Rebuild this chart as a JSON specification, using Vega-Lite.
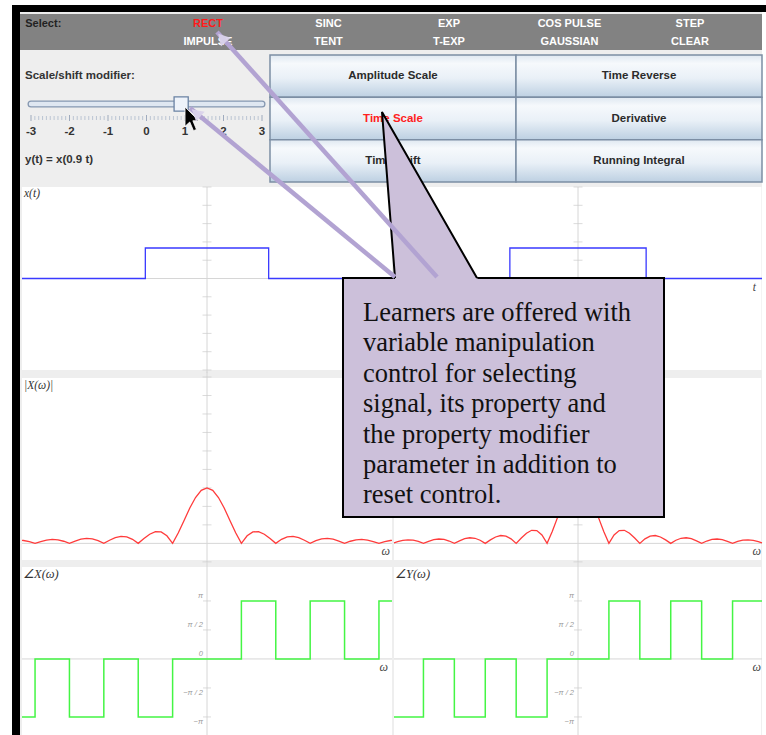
{
"$schema": "https://vega.github.io/schema/vega-lite/v6.json",
"width": 766, "height": 735, "padding": 0, "autosize": {"type": "none"}, "background": "#ffffff",
"config": {"view": {"stroke": null}, "axis": {"disable": true}, "legend": {"disable": true}, "font": "Liberation Sans"},
"resolve": {"scale": {"x": "independent", "y": "independent", "color": "independent"}},
"datasets": {
"selectCells": [
{"col":0,"row":0,"text":"Select:","state":"label"},
{"col":1,"row":0,"text":"RECT","state":"active"},
{"col":2,"row":0,"text":"SINC","state":"option"},
{"col":3,"row":0,"text":"EXP","state":"option"},
{"col":4,"row":0,"text":"COS PULSE","state":"option"},
{"col":5,"row":0,"text":"STEP","state":"option"},
{"col":1,"row":1,"text":"IMPULSE","state":"option"},
{"col":2,"row":1,"text":"TENT","state":"option"},
{"col":3,"row":1,"text":"T-EXP","state":"option"},
{"col":4,"row":1,"text":"GAUSSIAN","state":"option"},
{"col":5,"row":1,"text":"CLEAR","state":"option"}],
"buttons": [
{"col":0,"row":0,"label":"Amplitude Scale","state":"normal"},
{"col":1,"row":0,"label":"Time Reverse","state":"normal"},
{"col":0,"row":1,"label":"Time Scale","state":"active"},
{"col":1,"row":1,"label":"Derivative","state":"normal"},
{"col":0,"row":2,"label":"Time Shift","state":"normal"},
{"col":1,"row":2,"label":"Running Integral","state":"normal"}],
"magLeft": [
{"w":-16.9,"v":0.110},{"w":-16.755,"v":0.1034},{"w":-16.232,"v":0.0616},{"w":-15.708,"v":0},{"w":-15.184,"v":0.0659},{"w":-14.661,"v":0.1181},{"w":-14.137,"v":0.1415},{"w":-13.614,"v":0.1272},{"w":-13.09,"v":0.0764},{"w":-12.566,"v":0},{"w":-12.043,"v":0.083},{"w":-11.519,"v":0.1504},{"w":-10.996,"v":0.1819},{"w":-10.472,"v":0.1654},{"w":-9.948,"v":0.1005},{"w":-9.425,"v":0},{"w":-8.901,"v":0.1123},{"w":-8.378,"v":0.2067},{"w":-7.854,"v":0.2546},{"w":-7.33,"v":0.2363},{"w":-6.807,"v":0.1469},{"w":-6.283,"v":0},{"w":-5.76,"v":0.1736},{"w":-5.236,"v":0.3308},{"w":-4.712,"v":0.4244},{"w":-4.189,"v":0.4135},{"w":-3.665,"v":0.2728},{"w":-3.142,"v":0},{"w":-2.618,"v":0.382},{"w":-2.094,"v":0.827},{"w":-1.571,"v":1.2732},{"w":-1.047,"v":1.654},{"w":-0.524,"v":1.9099},{"w":0,"v":2},
{"w":0.524,"v":1.9099},{"w":1.047,"v":1.654},{"w":1.571,"v":1.2732},{"w":2.094,"v":0.827},{"w":2.618,"v":0.382},{"w":3.142,"v":0},{"w":3.665,"v":0.2728},{"w":4.189,"v":0.4135},{"w":4.712,"v":0.4244},{"w":5.236,"v":0.3308},{"w":5.76,"v":0.1736},{"w":6.283,"v":0},{"w":6.807,"v":0.1469},{"w":7.33,"v":0.2363},{"w":7.854,"v":0.2546},{"w":8.378,"v":0.2067},{"w":8.901,"v":0.1123},{"w":9.425,"v":0},{"w":9.948,"v":0.1005},{"w":10.472,"v":0.1654},{"w":10.996,"v":0.1819},{"w":11.519,"v":0.1504},{"w":12.043,"v":0.083},{"w":12.566,"v":0},{"w":13.09,"v":0.0764},{"w":13.614,"v":0.1272},{"w":14.137,"v":0.1415},{"w":14.661,"v":0.1181},{"w":15.184,"v":0.0659},{"w":15.708,"v":0},{"w":16.232,"v":0.0616},{"w":16.755,"v":0.1034},{"w":16.9,"v":0.110}],
"magRight": [
{"w":-16.83,"v":0.018},{"w":-16.493,"v":0.0606},{"w":-16.022,"v":0.1081},{"w":-15.551,"v":0.1286},{"w":-15.08,"v":0.1149},{"w":-14.608,"v":0.0684},{"w":-14.137,"v":0},{"w":-13.666,"v":0.0732},{"w":-13.195,"v":0.1312},{"w":-12.723,"v":0.1572},{"w":-12.252,"v":0.1413},{"w":-11.781,"v":0.0849},{"w":-11.31,"v":0},{"w":-10.839,"v":0.0922},{"w":-10.367,"v":0.1671},{"w":-9.896,"v":0.2021},{"w":-9.425,"v":0.1838},{"w":-8.954,"v":0.1117},{"w":-8.482,"v":0},{"w":-8.011,"v":0.1248},{"w":-7.54,"v":0.2297},{"w":-7.069,"v":0.2829},{"w":-6.597,"v":0.2626},{"w":-6.126,"v":0.1632},{"w":-5.655,"v":0},{"w":-5.184,"v":0.1929},{"w":-4.712,"v":0.3676},{"w":-4.241,"v":0.4716},{"w":-3.77,"v":0.4594},{"w":-3.299,"v":0.3031},{"w":-2.827,"v":0},{"w":-2.356,"v":0.4244},{"w":-1.885,"v":0.9189},{"w":-1.414,"v":1.4147},{"w":-0.942,"v":1.8378},{"w":-0.471,"v":2.1221},{"w":0,"v":2.2222},
{"w":0.471,"v":2.1221},{"w":0.942,"v":1.8378},{"w":1.414,"v":1.4147},{"w":1.885,"v":0.9189},{"w":2.356,"v":0.4244},{"w":2.827,"v":0},{"w":3.299,"v":0.3031},{"w":3.77,"v":0.4594},{"w":4.241,"v":0.4716},{"w":4.712,"v":0.3676},{"w":5.184,"v":0.1929},{"w":5.655,"v":0},{"w":6.126,"v":0.1632},{"w":6.597,"v":0.2626},{"w":7.069,"v":0.2829},{"w":7.54,"v":0.2297},{"w":8.011,"v":0.1248},{"w":8.482,"v":0},{"w":8.954,"v":0.1117},{"w":9.425,"v":0.1838},{"w":9.896,"v":0.2021},{"w":10.367,"v":0.1671},{"w":10.839,"v":0.0922},{"w":11.31,"v":0},{"w":11.781,"v":0.0849},{"w":12.252,"v":0.1413},{"w":12.723,"v":0.1572},{"w":13.195,"v":0.1312},{"w":13.666,"v":0.0732},{"w":14.137,"v":0},{"w":14.608,"v":0.0684},{"w":15.08,"v":0.1149},{"w":15.551,"v":0.1286},{"w":16.022,"v":0.1081},{"w":16.493,"v":0.0606},{"w":16.83,"v":0.018}],
"sliderMinor": [
{"v":-2.9,"row":3},{"v":-2.8,"row":3},{"v":-2.7,"row":3},{"v":-2.6,"row":3},{"v":-2.5,"row":3},{"v":-2.4,"row":3},{"v":-2.3,"row":3},{"v":-2.2,"row":3},{"v":-2.1,"row":3},
{"v":-1.9,"row":3},{"v":-1.8,"row":3},{"v":-1.7,"row":3},{"v":-1.6,"row":3},{"v":-1.5,"row":3},{"v":-1.4,"row":3},{"v":-1.3,"row":3},{"v":-1.2,"row":3},{"v":-1.1,"row":3},
{"v":-0.9,"row":3},{"v":-0.8,"row":3},{"v":-0.7,"row":3},{"v":-0.6,"row":3},{"v":-0.5,"row":3},{"v":-0.4,"row":3},{"v":-0.3,"row":3},{"v":-0.2,"row":3},{"v":-0.1,"row":3},
{"v":0.1,"row":3},{"v":0.2,"row":3},{"v":0.3,"row":3},{"v":0.4,"row":3},{"v":0.5,"row":3},{"v":0.6,"row":3},{"v":0.7,"row":3},{"v":0.8,"row":3},{"v":0.9,"row":3},
{"v":1.1,"row":3},{"v":1.2,"row":3},{"v":1.3,"row":3},{"v":1.4,"row":3},{"v":1.5,"row":3},{"v":1.6,"row":3},{"v":1.7,"row":3},{"v":1.8,"row":3},{"v":1.9,"row":3},
{"v":2.1,"row":3},{"v":2.2,"row":3},{"v":2.3,"row":3},{"v":2.4,"row":3},{"v":2.5,"row":3},{"v":2.6,"row":3},{"v":2.7,"row":3},{"v":2.8,"row":3},{"v":2.9,"row":3}],
"sliderMajor": [
{"v":-3,"row":3},{"v":-2,"row":3},{"v":-1,"row":3},{"v":0,"row":3},{"v":1,"row":3},{"v":2,"row":3},{"v":3,"row":3}],
"sliderLabels": [
{"v":-3,"row":4,"t":"-3"},{"v":-2,"row":4,"t":"-2"},{"v":-1,"row":4,"t":"-1"},{"v":0,"row":4,"t":"0"},{"v":1,"row":4,"t":"1"},{"v":2,"row":4,"t":"2"},{"v":3,"row":4,"t":"3"}],
"timeTicks": [
{"w":0,"v":-3},{"w":0,"v":-2.4},{"w":0,"v":-1.8},{"w":0,"v":-1.2},{"w":0,"v":-0.6},{"w":0,"v":0.6},{"w":0,"v":1.2},{"w":0,"v":1.8},{"w":0,"v":2.4},{"w":0,"v":3}],
"magTicks": [
{"w":0,"v":-0.667},{"w":0,"v":0.667},{"w":0,"v":1.333},{"w":0,"v":2},{"w":0,"v":2.667},{"w":0,"v":3.333},{"w":0,"v":4},{"w":0,"v":4.667},{"w":0,"v":5.333},{"w":0,"v":6}],
"phaseTicks": [
{"w":0,"v":3.1416},{"w":0,"v":1.5708},{"w":0,"v":-1.5708},{"w":0,"v":-3.1416}],
"phaseLabelsUp": [
{"w":0,"v":3.1416,"t":"π"},{"w":0,"v":1.5708,"t":"π / 2"},{"w":0,"v":0,"t":"0"}],
"phaseLabelsDown": [
{"w":0,"v":-1.5708,"t":"−π / 2"},{"w":0,"v":-3.1416,"t":"−π"}]
},
"layer": [
{
"encoding": {
"x": {"field": "x", "type": "quantitative", "scale": {"domain": [0, 766], "range": [0, 766], "nice": false, "zero": false}},
"y": {"field": "y", "type": "quantitative", "scale": {"domain": [0, 735], "range": [0, 735], "nice": false, "zero": false}}
},
"layer": [
{"data": {"values": [{"x": 20, "x2": 762, "y": 12, "y2": 735}]}, "mark": {"type": "rect", "fill": "#eeeeee"}, "encoding": {"x2": {"field": "x2"}, "y2": {"field": "y2"}}},
{"data": {"values": [{"x": 20, "x2": 762, "y": 14, "y2": 50}]}, "mark": {"type": "rect", "fill": "#828282"}, "encoding": {"x2": {"field": "x2"}, "y2": {"field": "y2"}}},
{"data": {"values": [{"x": 12, "x2": 766, "y": 5, "y2": 12}, {"x": 12, "x2": 20, "y": 5, "y2": 735}]}, "mark": {"type": "rect", "fill": "#000000"}, "encoding": {"x2": {"field": "x2"}, "y2": {"field": "y2"}}}
]
},
{
"data": {"name": "selectCells"},
"encoding": {
"x": {"field": "col", "type": "ordinal", "scale": {"type": "band", "domain": [0, 1, 2, 3, 4, 5], "range": [20, 762], "paddingInner": 0, "paddingOuter": 0.079, "align": 0.38}},
"y": {"field": "row", "type": "ordinal", "scale": {"type": "band", "domain": [0, 1], "range": [14, 50], "paddingInner": 0, "paddingOuter": 0}},
"color": {"field": "state", "type": "nominal", "scale": {"domain": ["label", "active", "option"], "range": ["#222222", "#ff1a1a", "#ffffff"]}},
"text": {"field": "text"}
},
"layer": [
{"transform": [{"filter": "datum.col > 0"}], "mark": {"type": "text", "fontWeight": "bold", "fontSize": 11, "dy": 1}},
{"transform": [{"filter": "datum.col == 0"}], "mark": {"type": "text", "fontWeight": "bold", "fontSize": 11, "align": "left", "dx": -2, "dy": 1},
 "encoding": {"x": {"field": "col", "type": "ordinal", "bandPosition": 0}}}
]
},
{
"encoding": {
"x": {"field": "v", "type": "quantitative", "scale": {"domain": [-3, 3], "range": [31, 262], "nice": false, "zero": false}},
"y": {"field": "row", "type": "quantitative", "scale": {"domain": [0, 6], "range": [76, 160], "nice": false, "zero": false}}
},
"layer": [
{"data": {"values": [{"v": -3, "row": 0, "t": "Scale/shift modifier:"}, {"v": -3, "row": 6, "t": "y(t) = x(0.9 t)"}]},
 "mark": {"type": "text", "align": "left", "dx": -6, "fontWeight": "bold", "fontSize": 11.5, "color": "#333333"}, "encoding": {"text": {"field": "t"}}},
{"data": {"values": [{"v": -3, "v2": 3, "row": 2}]}, "mark": {"type": "rule", "color": "#8597b0", "strokeWidth": 7, "strokeCap": "round"}, "encoding": {"x2": {"field": "v2"}}},
{"data": {"values": [{"v": -3, "v2": 3, "row": 2}]}, "mark": {"type": "rule", "color": "#dfe7f1", "strokeWidth": 4.5, "strokeCap": "round"}, "encoding": {"x2": {"field": "v2"}}},
{"data": {"name": "sliderMinor"}, "mark": {"type": "tick", "orient": "vertical", "size": 4, "thickness": 1, "color": "#a5b4c8"}},
{"data": {"name": "sliderMajor"}, "mark": {"type": "tick", "orient": "vertical", "size": 6, "thickness": 1, "color": "#7d8faa"}},
{"data": {"name": "sliderLabels"}, "mark": {"type": "text", "fontWeight": "bold", "fontSize": 11.5, "color": "#333333"}, "encoding": {"text": {"field": "t"}}},
{"data": {"values": [{"v": 0.9, "row": 2}]}, "mark": {"type": "point", "shape": "square", "size": 200, "filled": true, "fill": "#eef3fa", "stroke": "#6a82a3", "strokeWidth": 1.3, "opacity": 1}}
]
},
{
"data": {"name": "buttons"},
"encoding": {
"x": {"field": "col", "type": "ordinal", "scale": {"type": "band", "domain": [0, 1], "range": [270, 762], "paddingInner": 0, "paddingOuter": 0}},
"y": {"field": "row", "type": "ordinal", "scale": {"type": "band", "domain": [0, 1, 2], "range": [55, 182], "paddingInner": 0, "paddingOuter": 0}}
},
"layer": [
{"mark": {"type": "rect", "stroke": "#7c8ea4", "strokeWidth": 1.5,
 "fill": {"gradient": "linear", "x1": 0, "y1": 0, "x2": 0, "y2": 1, "stops": [{"offset": 0, "color": "#dfe8f1"}, {"offset": 0.2, "color": "#f6f9fc"}, {"offset": 0.55, "color": "#e9f0f7"}, {"offset": 1, "color": "#bdd0e2"}]}}},
{"mark": {"type": "text", "fontWeight": "bold", "fontSize": 11.5},
 "encoding": {"text": {"field": "label"}, "color": {"field": "state", "type": "nominal", "scale": {"domain": ["normal", "active"], "range": ["#2b2b2b", "#ff2020"]}}}}
]
},
{
"encoding": {
"x": {"field": "w", "type": "quantitative", "scale": {"domain": [-3, 3], "range": [22, 392], "nice": false, "zero": false}},
"y": {"field": "v", "type": "quantitative", "scale": {"domain": [-3, 3], "range": [370, 187], "nice": false, "zero": false}}
},
"layer": [
{"data": {"values": [{"w": -3, "w2": 3, "v": -3, "v2": 3}]}, "mark": {"type": "rect", "fill": "#ffffff"}, "encoding": {"x2": {"field": "w2"}, "y2": {"field": "v2"}}},
{"data": {"values": [{"w": -3, "w2": 3, "v": 0}]}, "mark": {"type": "rule", "color": "#d6d6d6"}, "encoding": {"x2": {"field": "w2"}}},
{"data": {"values": [{"w": 0, "v": -3.1, "v2": 3}]}, "mark": {"type": "rule", "color": "#d6d6d6"}, "encoding": {"y2": {"field": "v2"}}},
{"data": {"name": "timeTicks"}, "mark": {"type": "tick", "orient": "horizontal", "size": 9, "thickness": 1, "color": "#cccccc"}},
{"data": {"values": [{"w": -3, "v": 0}, {"w": -1, "v": 1}, {"w": 1, "v": 0}, {"w": 3, "v": 0}]}, "mark": {"type": "line", "interpolate": "step-after", "color": "#3a3aff", "strokeWidth": 1.3}},
{"data": {"values": [{"w": -3, "v": 3, "t": "x(t)"}]}, "mark": {"type": "text", "align": "left", "baseline": "top", "dx": 2, "dy": 1, "font": "Liberation Serif", "fontStyle": "italic", "fontSize": 11.5, "color": "#333333"}, "encoding": {"text": {"field": "t"}}}
]
},
{
"encoding": {
"x": {"field": "w", "type": "quantitative", "scale": {"domain": [-3, 3], "range": [394, 762], "nice": false, "zero": false}},
"y": {"field": "v", "type": "quantitative", "scale": {"domain": [-3, 3], "range": [370, 187], "nice": false, "zero": false}}
},
"layer": [
{"data": {"values": [{"w": -3, "w2": 2.99, "v": -3, "v2": 3}]}, "mark": {"type": "rect", "fill": "#ffffff"}, "encoding": {"x2": {"field": "w2"}, "y2": {"field": "v2"}}},
{"data": {"values": [{"w": -3, "w2": 3, "v": 0}]}, "mark": {"type": "rule", "color": "#d6d6d6"}, "encoding": {"x2": {"field": "w2"}}},
{"data": {"values": [{"w": 0, "v": -3.1, "v2": 3}]}, "mark": {"type": "rule", "color": "#d6d6d6"}, "encoding": {"y2": {"field": "v2"}}},
{"data": {"name": "timeTicks"}, "mark": {"type": "tick", "orient": "horizontal", "size": 9, "thickness": 1, "color": "#cccccc"}},
{"data": {"values": [{"w": -3, "v": 0}, {"w": -1.111, "v": 1}, {"w": 1.111, "v": 0}, {"w": 3, "v": 0}]}, "mark": {"type": "line", "interpolate": "step-after", "color": "#3a3aff", "strokeWidth": 1.3}},
{"data": {"values": [{"w": 3, "v": 0, "t": "t"}]}, "mark": {"type": "text", "align": "right", "baseline": "top", "dx": -6, "dy": 3, "font": "Liberation Serif", "fontStyle": "italic", "fontSize": 11.5, "color": "#444444"}, "encoding": {"text": {"field": "t"}}}
]
},
{
"encoding": {
"x": {"field": "w", "type": "quantitative", "scale": {"domain": [-16.9, 16.9], "range": [22, 392], "nice": false, "zero": false}},
"y": {"field": "v", "type": "quantitative", "scale": {"domain": [-0.6, 6], "range": [560, 377], "nice": false, "zero": false}}
},
"layer": [
{"data": {"values": [{"w": -16.9, "w2": 16.9, "v": -0.6, "v2": 5.96}]}, "mark": {"type": "rect", "fill": "#ffffff"}, "encoding": {"x2": {"field": "w2"}, "y2": {"field": "v2"}}},
{"data": {"values": [{"w": -16.9, "w2": 16.9, "v": 0}]}, "mark": {"type": "rule", "color": "#d6d6d6"}, "encoding": {"x2": {"field": "w2"}}},
{"data": {"values": [{"w": 0, "v": -0.667, "v2": 6.2}]}, "mark": {"type": "rule", "color": "#d6d6d6"}, "encoding": {"y2": {"field": "v2"}}},
{"data": {"name": "magTicks"}, "mark": {"type": "tick", "orient": "horizontal", "size": 9, "thickness": 1, "color": "#cccccc"}},
{"data": {"name": "magLeft"}, "mark": {"type": "line", "color": "#ff3b3b", "strokeWidth": 1.3}},
{"data": {"values": [{"w": -16.9, "v": 6, "t": "|X(ω)|"}]}, "mark": {"type": "text", "align": "left", "baseline": "top", "dx": 2, "dy": 3, "font": "Liberation Serif", "fontStyle": "italic", "fontSize": 11.5, "color": "#333333"}, "encoding": {"text": {"field": "t"}}},
{"data": {"values": [{"w": 16.9, "v": 0, "t": "ω"}]}, "mark": {"type": "text", "align": "right", "baseline": "top", "dx": -2, "dy": 3, "font": "Liberation Serif", "fontStyle": "italic", "fontSize": 12, "color": "#444444"}, "encoding": {"text": {"field": "t"}}}
]
},
{
"encoding": {
"x": {"field": "w", "type": "quantitative", "scale": {"domain": [-16.83, 16.83], "range": [394, 762], "nice": false, "zero": false}},
"y": {"field": "v", "type": "quantitative", "scale": {"domain": [-0.6, 6], "range": [560, 377], "nice": false, "zero": false}}
},
"layer": [
{"data": {"values": [{"w": -16.83, "w2": 16.75, "v": -0.6, "v2": 5.96}]}, "mark": {"type": "rect", "fill": "#ffffff"}, "encoding": {"x2": {"field": "w2"}, "y2": {"field": "v2"}}},
{"data": {"values": [{"w": -16.83, "w2": 16.83, "v": 0}]}, "mark": {"type": "rule", "color": "#d6d6d6"}, "encoding": {"x2": {"field": "w2"}}},
{"data": {"values": [{"w": 0, "v": -0.667, "v2": 6.2}]}, "mark": {"type": "rule", "color": "#d6d6d6"}, "encoding": {"y2": {"field": "v2"}}},
{"data": {"name": "magTicks"}, "mark": {"type": "tick", "orient": "horizontal", "size": 9, "thickness": 1, "color": "#cccccc"}},
{"data": {"name": "magRight"}, "mark": {"type": "line", "color": "#ff3b3b", "strokeWidth": 1.3}},
{"data": {"values": [{"w": 16.83, "v": 0, "t": "ω"}]}, "mark": {"type": "text", "align": "right", "baseline": "top", "dx": -1, "dy": 3, "font": "Liberation Serif", "fontStyle": "italic", "fontSize": 12, "color": "#444444"}, "encoding": {"text": {"field": "t"}}}
]
},
{
"encoding": {
"x": {"field": "w", "type": "quantitative", "scale": {"domain": [-16.9, 16.9], "range": [22, 392], "nice": false, "zero": false}},
"y": {"field": "v", "type": "quantitative", "scale": {"domain": [-4.12, 4.98], "range": [735, 567], "nice": false, "zero": false}}
},
"layer": [
{"data": {"values": [{"w": -16.9, "w2": 16.9, "v": -4.12, "v2": 4.98}]}, "mark": {"type": "rect", "fill": "#ffffff"}, "encoding": {"x2": {"field": "w2"}, "y2": {"field": "v2"}}},
{"data": {"values": [{"w": -16.9, "w2": 16.9, "v": 0}]}, "mark": {"type": "rule", "color": "#d6d6d6"}, "encoding": {"x2": {"field": "w2"}}},
{"data": {"values": [{"w": 0, "v": -4.12, "v2": 5.3}]}, "mark": {"type": "rule", "color": "#d6d6d6"}, "encoding": {"y2": {"field": "v2"}}},
{"data": {"name": "phaseTicks"}, "mark": {"type": "tick", "orient": "horizontal", "size": 8, "thickness": 1, "color": "#cccccc"}},
{"data": {"name": "phaseLabelsUp"}, "mark": {"type": "text", "align": "right", "baseline": "bottom", "dx": -4, "dy": -1, "fontStyle": "italic", "fontSize": 7.5, "color": "#9a9a9a"}, "encoding": {"text": {"field": "t"}}},
{"data": {"name": "phaseLabelsDown"}, "mark": {"type": "text", "align": "right", "baseline": "top", "dx": -4, "dy": 1, "fontStyle": "italic", "fontSize": 7.5, "color": "#9a9a9a"}, "encoding": {"text": {"field": "t"}}},
{"data": {"values": [{"w": -16.9, "v": -3.1416}, {"w": -15.708, "v": 0}, {"w": -12.566, "v": -3.1416}, {"w": -9.425, "v": 0}, {"w": -6.283, "v": -3.1416}, {"w": -3.1416, "v": 0}, {"w": 3.1416, "v": 3.1416}, {"w": 6.283, "v": 0}, {"w": 9.425, "v": 3.1416}, {"w": 12.566, "v": 0}, {"w": 15.708, "v": 3.1416}, {"w": 16.9, "v": 3.1416}]},
 "mark": {"type": "line", "interpolate": "step-after", "color": "#44f544", "strokeWidth": 1.5}},
{"data": {"values": [{"w": -16.9, "v": 4.98, "t": "∠X(ω)"}]}, "mark": {"type": "text", "align": "left", "baseline": "top", "dx": 1, "dy": 1, "font": "Liberation Serif", "fontStyle": "italic", "fontSize": 12.5, "color": "#333333"}, "encoding": {"text": {"field": "t"}}},
{"data": {"values": [{"w": 16.9, "v": 0, "t": "ω"}]}, "mark": {"type": "text", "align": "right", "baseline": "top", "dx": -4, "dy": 3, "font": "Liberation Serif", "fontStyle": "italic", "fontSize": 12, "color": "#444444"}, "encoding": {"text": {"field": "t"}}}
]
},
{
"encoding": {
"x": {"field": "w", "type": "quantitative", "scale": {"domain": [-16.83, 16.83], "range": [394, 762], "nice": false, "zero": false}},
"y": {"field": "v", "type": "quantitative", "scale": {"domain": [-4.12, 4.98], "range": [735, 567], "nice": false, "zero": false}}
},
"layer": [
{"data": {"values": [{"w": -16.83, "w2": 16.75, "v": -4.12, "v2": 4.98}]}, "mark": {"type": "rect", "fill": "#ffffff"}, "encoding": {"x2": {"field": "w2"}, "y2": {"field": "v2"}}},
{"data": {"values": [{"w": -16.83, "w2": 16.83, "v": 0}]}, "mark": {"type": "rule", "color": "#d6d6d6"}, "encoding": {"x2": {"field": "w2"}}},
{"data": {"values": [{"w": 0, "v": -4.12, "v2": 5.3}]}, "mark": {"type": "rule", "color": "#d6d6d6"}, "encoding": {"y2": {"field": "v2"}}},
{"data": {"name": "phaseTicks"}, "mark": {"type": "tick", "orient": "horizontal", "size": 8, "thickness": 1, "color": "#cccccc"}},
{"data": {"name": "phaseLabelsUp"}, "mark": {"type": "text", "align": "right", "baseline": "bottom", "dx": -4, "dy": -1, "fontStyle": "italic", "fontSize": 7.5, "color": "#9a9a9a"}, "encoding": {"text": {"field": "t"}}},
{"data": {"name": "phaseLabelsDown"}, "mark": {"type": "text", "align": "right", "baseline": "top", "dx": -4, "dy": 1, "fontStyle": "italic", "fontSize": 7.5, "color": "#9a9a9a"}, "encoding": {"text": {"field": "t"}}},
{"data": {"values": [{"w": -16.83, "v": -3.1416}, {"w": -14.137, "v": 0}, {"w": -11.31, "v": -3.1416}, {"w": -8.482, "v": 0}, {"w": -5.655, "v": -3.1416}, {"w": -2.827, "v": 0}, {"w": 2.827, "v": 3.1416}, {"w": 5.655, "v": 0}, {"w": 8.482, "v": 3.1416}, {"w": 11.31, "v": 0}, {"w": 14.137, "v": 3.1416}, {"w": 16.83, "v": 3.1416}]},
 "mark": {"type": "line", "interpolate": "step-after", "color": "#44f544", "strokeWidth": 1.5}},
{"data": {"values": [{"w": -16.83, "v": 4.98, "t": "∠Y(ω)"}]}, "mark": {"type": "text", "align": "left", "baseline": "top", "dx": 1, "dy": 1, "font": "Liberation Serif", "fontStyle": "italic", "fontSize": 12.5, "color": "#333333"}, "encoding": {"text": {"field": "t"}}},
{"data": {"values": [{"w": 16.83, "v": 0, "t": "ω"}]}, "mark": {"type": "text", "align": "right", "baseline": "top", "dx": -1, "dy": 3, "font": "Liberation Serif", "fontStyle": "italic", "fontSize": 12, "color": "#444444"}, "encoding": {"text": {"field": "t"}}}
]
},
{
"encoding": {
"x": {"field": "x", "type": "quantitative", "scale": {"domain": [0, 766], "range": [0, 766], "nice": false, "zero": false}},
"y": {"field": "y", "type": "quantitative", "scale": {"domain": [0, 735], "range": [0, 735], "nice": false, "zero": false}}
},
"layer": [
{"data": {"values": [{"x": 343, "x2": 664, "y": 278, "y2": 517}]}, "mark": {"type": "rect", "fill": "#ccc0da", "stroke": "#000000", "strokeWidth": 2}, "encoding": {"x2": {"field": "x2"}, "y2": {"field": "y2"}}},
{"data": {"values": [{"y": 112, "x": 382, "x2": 382}, {"y": 279.2, "x": 395.1, "x2": 477.8}]}, "mark": {"type": "area", "orient": "horizontal", "fill": "#ccc0da"},
 "encoding": {"x": {"field": "x", "type": "quantitative", "stack": null}, "x2": {"field": "x2"}}},
{"data": {"values": [{"x": 395, "y": 278, "i": 0}, {"x": 382, "y": 112, "i": 1}, {"x": 477, "y": 278, "i": 2}]}, "mark": {"type": "line", "color": "#000000", "strokeWidth": 2, "strokeJoin": "miter"}, "encoding": {"order": {"field": "i"}}},
{"data": {"values": [{"x": 363, "y": 321, "t": "Learners are offered with\nvariable manipulation\ncontrol for selecting\nsignal, its property and\nthe property modifier\nparameter in addition to\nreset control."}]},
 "mark": {"type": "text", "align": "left", "baseline": "alphabetic", "lineBreak": "\n", "lineHeight": 30.4, "font": "Liberation Serif", "fontSize": 26.5, "color": "#111111"}, "encoding": {"text": {"field": "t"}}},
{"data": {"values": [{"x": 192.5, "y": 119.5}]}, "mark": {"type": "point", "shape": "M-0.6,-1L-0.6,0.55L-0.22,0.2L0.08,0.9L0.32,0.8L0.03,0.1L0.5,0.1Z", "size": 620, "filled": true, "fill": "#000000", "stroke": "#ffffff", "strokeWidth": 0.8, "opacity": 1}},
{"data": {"values": [{"x": 217, "y": 32, "x2": 437, "y2": 277}, {"x": 190, "y": 108, "x2": 395, "y2": 277}]}, "mark": {"type": "rule", "color": "#b2a3d2", "strokeWidth": 4.5}, "encoding": {"x2": {"field": "x2"}, "y2": {"field": "y2"}}},
{"data": {"values": [{"x": 222, "y": 38}]}, "mark": {"type": "point", "shape": "triangle-up", "size": 170, "angle": 318, "filled": true, "fill": "#d9d2ea", "opacity": 0.95}},
{"data": {"values": [{"x": 196, "y": 113}]}, "mark": {"type": "point", "shape": "triangle-up", "size": 170, "angle": 310, "filled": true, "fill": "#d9d2ea", "opacity": 0.95}}
]
}
]
}
